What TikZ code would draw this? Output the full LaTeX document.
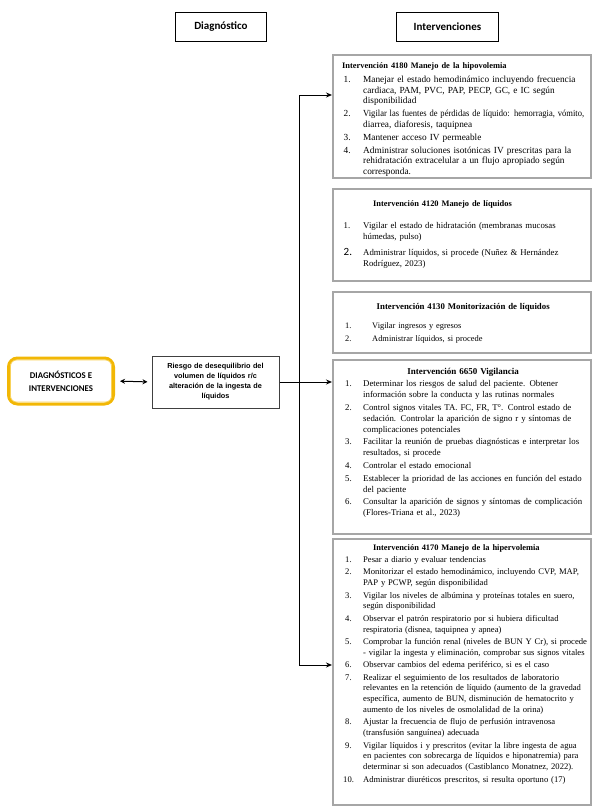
\documentclass[tikz,border=0pt]{standalone}
\usepackage{fontspec}
\usepackage{graphicx}
\setmainfont{Liberation Serif}
\newfontfamily\calfont{Carlito}
\newfontfamily\arialfont{Liberation Sans}
\usetikzlibrary{arrows.meta}
\definecolor{boxgray}{RGB}{166,166,166}
\definecolor{gold}{RGB}{242,183,5}
\definecolor{goldlight}{RGB}{248,210,90}
\newlength\itind \newlength\numoff \newlength\itsep
\setlength\itind{21pt}\setlength\numoff{1.5pt}\setlength\itsep{2pt}
% first line of an item: justified (F), natural (Fr) or fitted to the width (Ff)
\newcommand{\F}[2]{\par\vspace{\itsep}\noindent\makebox[\itind][l]{\hspace{\numoff}#1}\hbox to \dimexpr\linewidth-\itind\relax{#2}}
\newcommand{\Fr}[2]{\par\vspace{\itsep}\noindent\makebox[\itind][l]{\hspace{\numoff}#1}\hbox{#2}}
\newcommand{\Ff}[2]{\par\vspace{\itsep}\noindent\makebox[\itind][l]{\hspace{\numoff}#1}\resizebox{\dimexpr\linewidth-\itind\relax}{\height}{#2}}
% continuation lines: justified (C) or natural (Cr)
\newcommand{\C}[1]{\par\noindent\hspace*{\itind}\hbox to \dimexpr\linewidth-\itind\relax{#1}}
\newcommand{\Cr}[1]{\par\noindent\hspace*{\itind}\hbox{#1}}
\newcommand{\chead}[2][8.4]{\par\noindent\makebox[\linewidth]{\fontsize{#1}{10.8}\selectfont\textbf{#2}}}
\newcommand{\lhead}[2]{\par\noindent\hspace*{#1}\hbox{\fontsize{8.4}{10.8}\selectfont\textbf{#2}}}
\begin{document}
\begin{tikzpicture}[x=1pt,y=-1pt,
  gbox/.style={draw=boxgray, line width=2.4pt, fill=white, anchor=north west, inner sep=0pt},
  txt/.style={anchor=north west, inner sep=0pt, text width=242pt,
    font=\fontsize{#1}{10.8}\selectfont\setlength\parskip{0pt}},
  lbl/.style={draw, line width=0.8pt, font=\calfont\bfseries\fontsize{11}{13}\selectfont,
    anchor=north west, inner sep=0pt},
  arr/.style={line width=1pt, -{Stealth[length=6pt,width=5pt]}}]
\useasboundingbox (0,0) rectangle (602,809);

% column headers
\node[lbl, minimum width=91pt, minimum height=29pt] (hd) at (175,12) {Diagnóstico};
\node[lbl, minimum width=102pt, minimum height=29pt] (hi) at (396,12) {Intervenciones};

% left nodes
\node[draw=gold, line width=3pt, rounded corners=9pt, minimum width=105pt, minimum height=46pt,
  align=center, font=\calfont\bfseries\fontsize{8.8}{13}\selectfont] (d) at (61,381)
  {DIAGNÓSTICOS E\\INTERVENCIONES};
\draw[goldlight, line width=0.8pt, rounded corners=6pt]
  ([shift={(3.5pt,-3.5pt)}]d.north west) rectangle ([shift={(-3.5pt,3.5pt)}]d.south east);

\node[draw=black!75, line width=1pt, minimum width=127pt, minimum height=52pt, text width=124pt,
  align=center, inner sep=0pt, font=\arialfont\bfseries\fontsize{7.3}{10}\selectfont] (r) at (215.5,382)
  {Riesgo de desequilibrio del\\volumen de líquidos r/c\\alteración de la ingesta de\\líquidos};

% intervention boxes
\node[gbox, minimum width=258pt, minimum height=123pt] (b1) at (332,54) {};
\node[gbox, minimum width=258pt, minimum height=92pt] (b2) at (332,188) {};
\node[gbox, minimum width=258pt, minimum height=61pt] (b3) at (332,291) {};
\node[gbox, minimum width=258pt, minimum height=174pt] (b4) at (332,359) {};
\node[gbox, minimum width=258pt, minimum height=266pt] (b5) at (332,538) {};

\node[txt=9.3] (t1) at (342,62.5) {%
\noindent\hbox{\fontsize{8.4}{10.8}\selectfont\textbf{Intervención 4180 Manejo de la hipovolemia}}\par\vspace{1pt}
\Fr{1.}{Manejar el estado hemodinámico incluyendo frecuencia}
\Cr{cardiaca, PAM, PVC, PAP, PECP, GC, e IC según}
\Cr{disponibilidad}
\Ff{2.}{Vigilar las fuentes de pérdidas de líquido: hemorragia, vómito,}
\Cr{diarrea, diaforesis, taquipnea}
\Fr{3.}{Mantener acceso IV permeable}
\Fr{4.}{Administrar soluciones isotónicas IV prescritas para la}
\Cr{rehidratación extracelular a un flujo apropiado según}
\Cr{corresponda.}\par};

\node[txt=8.8] (t2) at (342,195) {%
\lhead{31pt}{Intervención 4120 Manejo de líquidos}\par\vspace{10pt}
\Fr{1.}{Vigilar el estado de hidratación (membranas mucosas}
\Cr{húmedas, pulso)}\par\vspace{3pt}
\Fr{{\calfont\fontsize{11}{11}\selectfont 2.}}{Administrar líquidos, si procede (Nuñez \& Hernández}
\Cr{Rodríguez, 2023)}\par};

\node[txt=8.4] (t3) at (342,298) {%
\setlength\itind{30pt}\setlength\numoff{3pt}%
\chead[8.8]{Intervención 4130 Monitorización de líquidos}\par\vspace{7pt}
\Fr{1.}{Vigilar ingresos y egresos}
\Fr{2.}{Administrar líquidos, si procede}\par};

\node[txt=8.8] (t4) at (342,363) {%
\setlength\numoff{3pt}%
\chead[9]{Intervención 6650 Vigilancia}
\F{1.}{Determinar los riesgos de salud del paciente. Obtener}
\Cr{información sobre la conducta y las rutinas normales}
\F{2.}{Control signos vitales TA. FC, FR, T°. Control estado de}
\C{sedación. Controlar la aparición de signo r y síntomas de}
\Cr{complicaciones potenciales}
\F{3.}{Facilitar la reunión de pruebas diagnósticas e interpretar los}
\Cr{resultados, si procede}
\Fr{4.}{Controlar el estado emocional}
\F{5.}{Establecer la prioridad de las acciones en función del estado}
\Cr{del paciente}
\F{6.}{Consultar la aparición de signos y síntomas de complicación}
\Cr{(Flores-Triana et al., 2023)}\par};

\node[txt=8.6] (t5) at (342,539) {%
\setlength\numoff{3pt}\setlength\itsep{1.6pt}%
\lhead{31pt}{Intervención 4170 Manejo de la hipervolemia}
\Fr{1.}{Pesar a diario y evaluar tendencias}
\F{2.}{Monitorizar el estado hemodinámico, incluyendo CVP, MAP,}
\Cr{PAP y PCWP, según disponibilidad}
\F{3.}{Vigilar los niveles de albúmina y proteínas totales en suero,}
\Cr{según disponibilidad}
\F{4.}{Observar el patrón respiratorio por si hubiera dificultad}
\Cr{respiratoria (disnea, taquipnea y apnea)}
\F{5.}{Comprobar la función renal (niveles de BUN Y Cr), si procede}
\Cr{- vigilar la ingesta y eliminación, comprobar sus signos vitales}
\Fr{6.}{Observar cambios del edema periférico, si es el caso}
\F{7.}{Realizar el seguimiento de los resultados de laboratorio}
\C{relevantes en la retención de líquido (aumento de la gravedad}
\C{específica, aumento de BUN, disminución de hematocrito y}
\Cr{aumento de los niveles de osmolalidad de la orina)}
\F{8.}{Ajustar la frecuencia de flujo de perfusión intravenosa}
\Cr{(transfusión sanguínea) adecuada}
\F{9.}{Vigilar líquidos i y prescritos (evitar la libre ingesta de agua}
\C{en pacientes con sobrecarga de líquidos e hiponatremia) para}
\Cr{determinar si son adecuados (Castiblanco Monatnez, 2022).}
\Fr{\hspace{-2pt}10.}{Administrar diuréticos prescritos, si resulta oportuno (17)}\par};

% connectors
\coordinate (j1) at (299,95);
\coordinate (j5) at (299,665);
\draw[line width=1pt] (j1) -- (j5);
\draw[arr] (j1) -- (j1 -| b1.west);
\draw[arr] (j5) -- (j5 -| b5.west);
\draw[arr] (r.east) -- (r.east -| b4.west);
\draw[line width=1pt, {Stealth[length=5pt,width=5pt]}-{Stealth[length=5pt,width=5pt]}, shorten <=5pt, shorten >=4pt] (d.east) -- (r.west);
\end{tikzpicture}
\end{document}
